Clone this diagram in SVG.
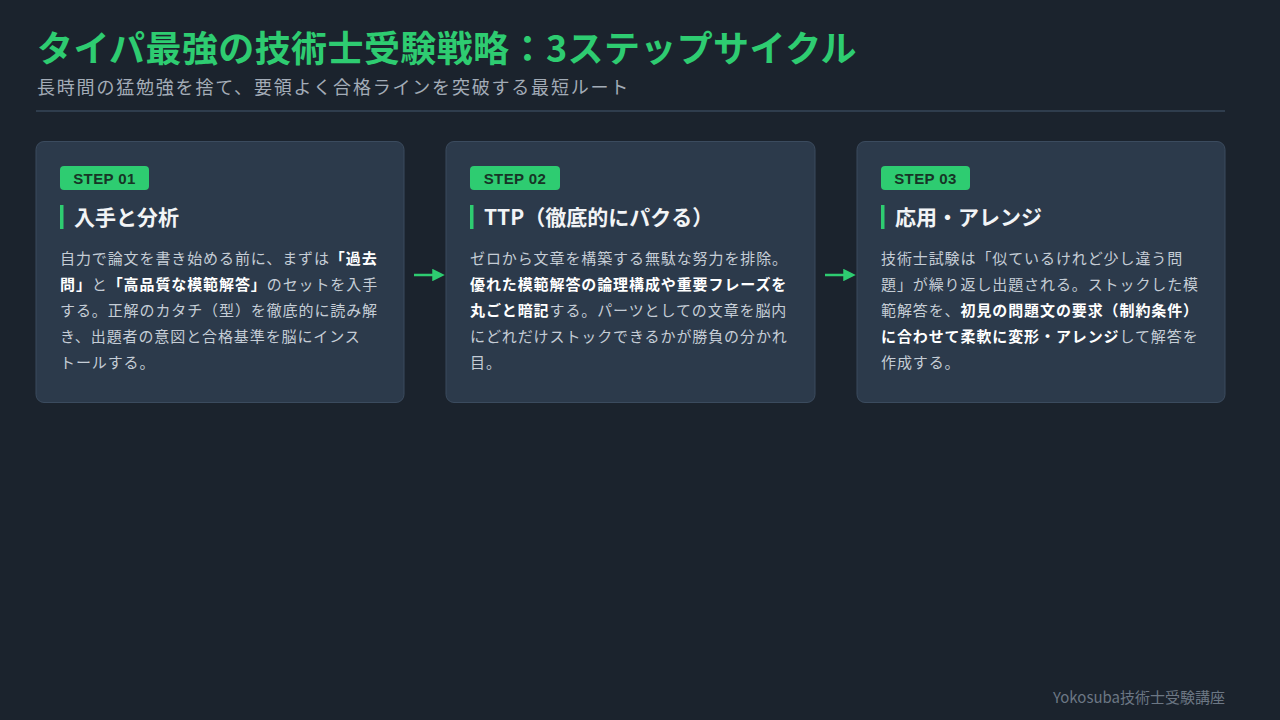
<svg xmlns="http://www.w3.org/2000/svg" width="1280" height="720" viewBox="0 0 1280 720">
<defs>
<style>
.jp{font-family:"Noto Sans CJK JP","Noto Sans",sans-serif;}
.title{font-size:36px;font-weight:700;fill:#2ecc71;letter-spacing:0.4px;}
.sub{font-size:18px;fill:#a3acb7;letter-spacing:1.8px;}
.card{fill:#2c3a4b;stroke:#3b4b5e;stroke-width:1;}
.badge{fill:#2ecc71;}
.badgeT{font-family:"Liberation Sans",Arial,sans-serif;font-size:15px;font-weight:700;fill:#173526;letter-spacing:0.4px;}
.bar{fill:#2ecc71;}
.head{font-size:21px;font-weight:700;fill:#f2f4f6;}
.body{font-size:15px;fill:#c5cdd6;letter-spacing:0.9px;}
.b{font-weight:700;fill:#ffffff;}
.foot{font-size:15px;fill:#6c7784;}
.conn{stroke:#2ecc71;stroke-width:2.5;fill:none;}
</style>
<marker id="ah" viewBox="0 0 10 10" refX="7" refY="5" markerWidth="5" markerHeight="5" orient="auto" markerUnits="strokeWidth">
<path d="M0,0 L10,5 L0,10 z" fill="#2ecc71"/>
</marker>
</defs>
<rect x="0" y="0" width="1280" height="720" fill="#1b232d"/>
<g id="header">
<text class="jp title" x="37" y="62">タイパ最強の技術士受験戦略：3ステップサイクル</text>
<text class="jp sub" x="37" y="94">長時間の猛勉強を捨て、要領よく合格ラインを突破する最短ルート</text>
<rect x="36" y="110" width="1189" height="2" fill="#2f3d4d"/>
</g>
<g id="connectors">
<path class="conn" d="M414,275 L441,275" marker-end="url(#ah)"/>
<path class="conn" d="M825,275 L852,275" marker-end="url(#ah)"/>
</g>
<g id="step1">
<rect class="card" x="36" y="141.5" width="368" height="261" rx="8"/>
<rect class="badge" x="60" y="166" width="89" height="24" rx="4"/>
<text class="badgeT" x="104.5" y="183.5" text-anchor="middle">STEP 01</text>
<rect class="bar" x="60" y="205" width="3.5" height="24"/>
<text class="jp head" x="74" y="224.5">入手と分析</text>
<text class="jp body" x="60" y="264">自力で論文を書き始める前に、まずは<tspan class="b">「過去</tspan></text>
<text class="jp body" x="60" y="290"><tspan class="b">問」</tspan>と<tspan class="b">「高品質な模範解答」</tspan>のセットを入手</text>
<text class="jp body" x="60" y="316">する。正解のカタチ（型）を徹底的に読み解</text>
<text class="jp body" x="60" y="342">き、出題者の意図と合格基準を脳にインス</text>
<text class="jp body" x="60" y="368">トールする。</text>
</g>
<g id="step2">
<rect class="card" x="446" y="141.5" width="369" height="261" rx="8"/>
<rect class="badge" x="470" y="166" width="90" height="24" rx="4"/>
<text class="badgeT" x="515" y="183.5" text-anchor="middle">STEP 02</text>
<rect class="bar" x="470" y="205" width="3.5" height="24"/>
<text class="jp head" x="484" y="224.5">TTP（徹底的にパクる）</text>
<text class="jp body" x="470" y="264">ゼロから文章を構築する無駄な努力を排除。</text>
<text class="jp body" x="470" y="290"><tspan class="b">優れた模範解答の論理構成や重要フレーズを</tspan></text>
<text class="jp body" x="470" y="316"><tspan class="b">丸ごと暗記</tspan>する。パーツとしての文章を脳内</text>
<text class="jp body" x="470" y="342">にどれだけストックできるかが勝負の分かれ</text>
<text class="jp body" x="470" y="368">目。</text>
</g>
<g id="step3">
<rect class="card" x="857" y="141.5" width="368" height="261" rx="8"/>
<rect class="badge" x="881" y="166" width="89" height="24" rx="4"/>
<text class="badgeT" x="925.5" y="183.5" text-anchor="middle">STEP 03</text>
<rect class="bar" x="881" y="205" width="3.5" height="24"/>
<text class="jp head" x="895" y="224.5">応用・アレンジ</text>
<text class="jp body" x="881" y="264">技術士試験は「似ているけれど少し違う問</text>
<text class="jp body" x="881" y="290">題」が繰り返し出題される。ストックした模</text>
<text class="jp body" x="881" y="316">範解答を、<tspan class="b">初見の問題文の要求（制約条件）</tspan></text>
<text class="jp body" x="881" y="342"><tspan class="b">に合わせて柔軟に変形・アレンジ</tspan>して解答を</text>
<text class="jp body" x="881" y="368">作成する。</text>
</g>
<g id="footer">
<text class="jp foot" x="1225" y="703" text-anchor="end">Yokosuba技術士受験講座</text>
</g>
</svg>
